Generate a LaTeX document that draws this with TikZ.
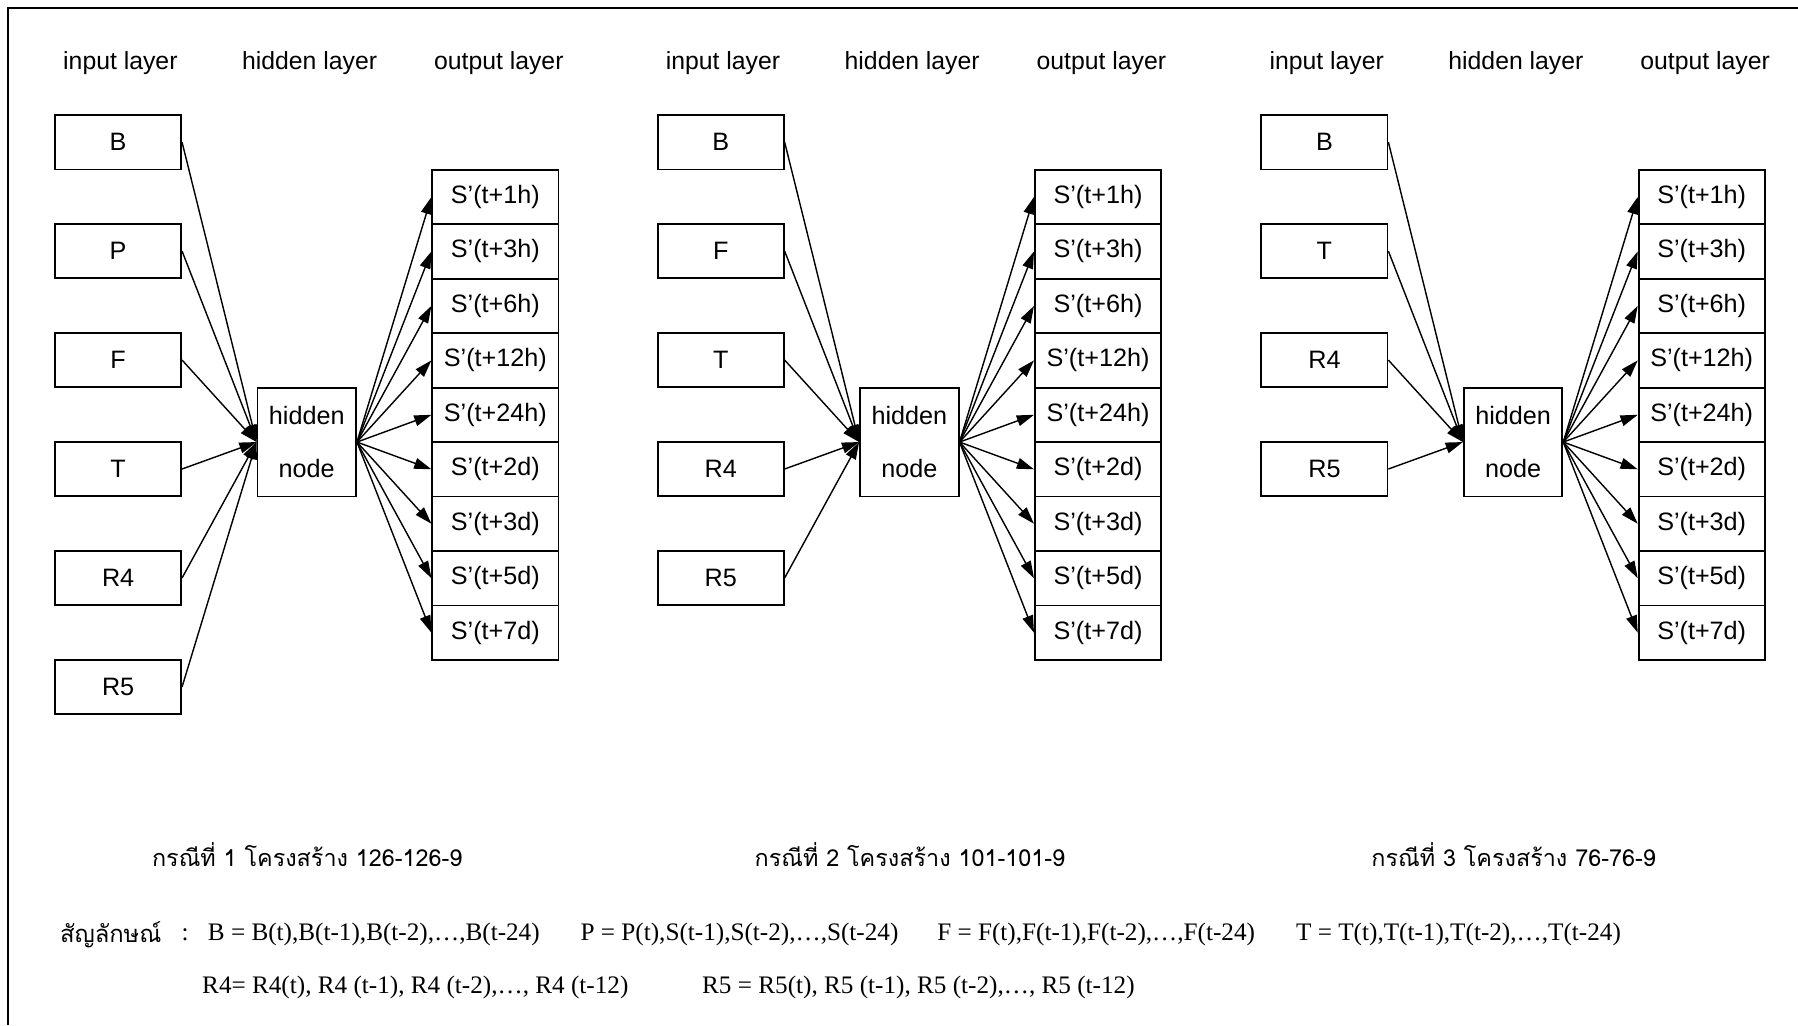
\documentclass[tikz,border=0pt]{standalone}
\usepackage{fontspec}
\setmainfont{Liberation Serif}
\setsansfont{Liberation Sans}
\newfontfamily\thaifont[Script=Thai]{Loma}
\usetikzlibrary{arrows.meta,positioning,calc}

\begin{document}
\begin{tikzpicture}[x=0.02cm,y=-0.02cm,>={Triangle[length=3mm,width=1.9mm]},
  box/.style={draw,line width=0.9pt,minimum width=2.2cm,minimum height=0.95cm,inner sep=0pt,
    font=\sffamily\fontsize{12.5}{14}\selectfont},
  head/.style={font=\sffamily\fontsize{12.3}{14}\selectfont},
  wire/.style={->,line width=0.7pt},
  casetext/.style={font=\thaifont\fontsize{11.6}{14}\selectfont},
  legend/.style={anchor=west,inner sep=0pt,font=\fontsize{12.5}{14}\selectfont}]
  \useasboundingbox (0,0) rectangle (1568,894);
  % frame, only top and left edges show
  \draw[line width=1.3pt] (1568,7) -- (7,7) -- (7,894);
  % three cases side by side
  \foreach \p/\dx/\net/\ins in {1/0/126-126-9/{B,P,F,T,R4,R5},
      2/525.5/101-101-9/{B,F,T,R4,R5},3/1052/76-76-9/{B,T,R4,R5}}{
    \node[head] (inhead\p) at (105+\dx,55) {input layer};
    \node[head] (hidhead\p) at (270+\dx,55) {hidden layer};
    \node[head] (outhead\p) at (435+\dx,55) {output layer};
    \node[box,minimum width=1.72cm,minimum height=1.9cm,align=center] (hid\p) at (267.5+\dx,385.5)
      {hidden\\[12.5pt]node};
    \foreach \v [count=\i] in \ins {
      \node[box] (in\p-\i) at (103+\dx,124+95*\i-95) {\v};
      \draw[wire] (in\p-\i.east) -- (hid\p.west);
    }
    \foreach \lab [count=\k] in {S'(t+1h),S'(t+3h),S'(t+6h),S'(t+12h),S'(t+24h),
        S'(t+2d),S'(t+3d),S'(t+5d),S'(t+7d)}{
      \node[box] (out\p-\k) at (432+\dx,171.75+47.5*\k-47.5) {\lab};
      \draw[wire] (hid\p.east) -- (out\p-\k.west);
    }
    \node[casetext] (case\p) at (268+\dx,745) {กรณีที่ \p\ โครงสร้าง \net};
  }
  % symbols
  \node[legend,font=\thaifont\fontsize{11.8}{14}\selectfont] (symword) at (52,815) {สัญลักษณ์};
  \node[legend] (colon) at (158,815) {:};
  \node[legend] (defB) at (181,815) {B = B(t),B(t-1),B(t-2),…,B(t-24)};
  \node[legend] (defP) at (506,815) {P = P(t),S(t-1),S(t-2),…,S(t-24)};
  \node[legend] (defF) at (817,815) {F = F(t),F(t-1),F(t-2),…,F(t-24)};
  \node[legend] (defT) at (1130,815) {T = T(t),T(t-1),T(t-2),…,T(t-24)};
  \node[legend] (defRfour) at (176,861) {R4= R4(t), R4 (t-1), R4 (t-2),…, R4 (t-12)};
  \node[legend] (defRfive) at (612,861) {R5 = R5(t), R5 (t-1), R5 (t-2),…, R5 (t-12)};
\end{tikzpicture}
\end{document}
